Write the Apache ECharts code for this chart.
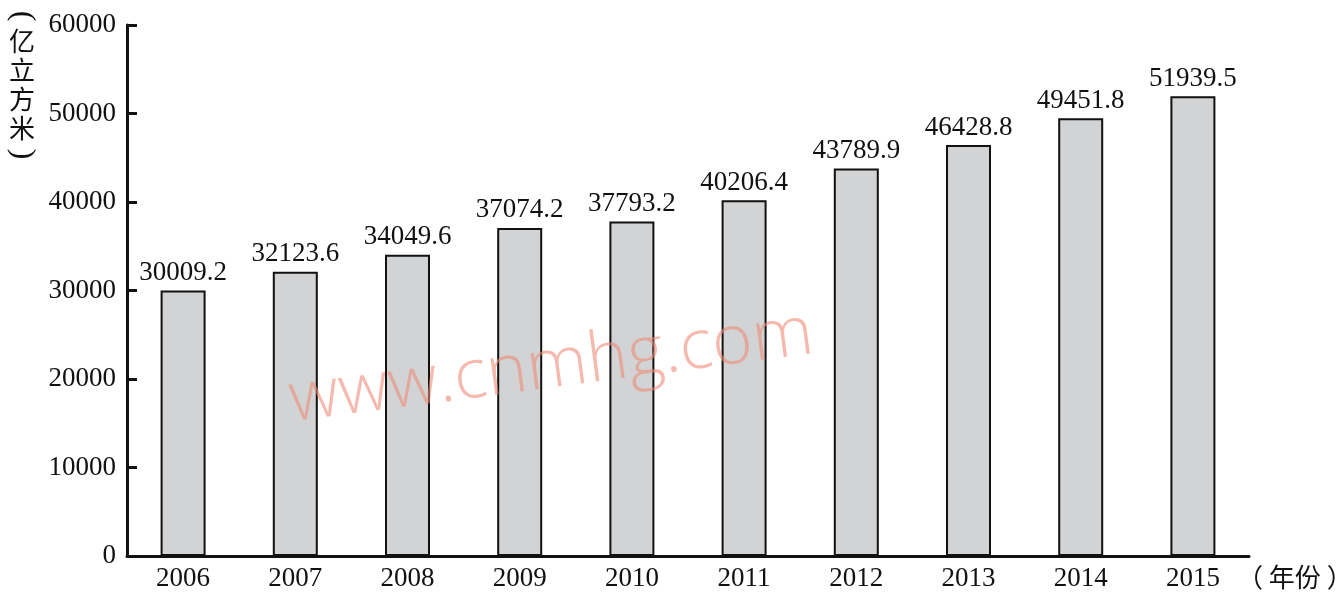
<!DOCTYPE html>
<html><head><meta charset="utf-8">
<script src="https://cdn.jsdelivr.net/npm/echarts@6/dist/echarts.min.js"></script>
<style>html,body{margin:0;padding:0;background:#fff}#c{width:1344px;height:600px}</style>
</head><body><div id="c"></div>
<script>
const years = ['2006','2007','2008','2009','2010','2011','2012','2013','2014','2015'];
const volumes = [30009.2, 32123.6, 34049.6, 37074.2, 37793.2, 40206.4, 43789.9, 46428.8, 49451.8, 51939.5];
const yTicks = [0, 10000, 20000, 30000, 40000, 50000, 60000];

const chart = echarts.init(document.getElementById('c'));
const serif = '"Liberation Serif", "DejaVu Serif", serif';
const cjk = '"Noto Sans CJK SC", sans-serif';
chart.setOption({
  animation: false,
  grid: {left: 127, right: 95, top: 25, bottom: 44, containLabel: false, outerBoundsMode: 'none'},
  xAxis: {
    type: 'category', data: years,
    axisLine: {lineStyle: {color: '#111', width: 3}},
    axisTick: {inside: true, length: 10, lineStyle: {color: '#111', width: 3}},
    axisLabel: {color: '#111', fontFamily: serif, fontSize: 27, margin: 9},
    name: '（ 年份 ）', nameLocation: 'end', nameGap: -12,
    nameTextStyle: {color: '#111', fontFamily: cjk, fontSize: 26, verticalAlign: 'top', align: 'left', padding: [8, 0, 0, 0]}
  },
  yAxis: {
    type: 'value', min: yTicks[0], max: yTicks[yTicks.length - 1], interval: 10000,
    axisLine: {show: true, lineStyle: {color: '#111', width: 3}},
    axisTick: {show: true, inside: true, length: 10, lineStyle: {color: '#111', width: 3}},
    axisLabel: {color: '#111', fontFamily: serif, fontSize: 27, margin: 11, formatter: v => String(v)},
    splitLine: {show: false}
  },
  series: [{
    type: 'bar', data: volumes, barWidth: 45,
    itemStyle: {color: '#d1d3d4', borderColor: '#111', borderWidth: 2},
    label: {show: true, position: 'top', distance: 4, color: '#111', fontFamily: serif, fontSize: 27,
      formatter: p => volumes[p.dataIndex].toFixed(1)}
  }],
  graphic: [
    {type: 'text', x: 22, y: 16, rotation: -Math.PI / 2, z: 10,
     style: {text: '(', font: '32px ' + serif, fill: '#111', align: 'center', verticalAlign: 'middle'}},
    {type: 'text', x: 22, y: 85, z: 10,
     style: {text: '亿\n立\n方\n米', font: '26px ' + cjk, fill: '#111', lineHeight: 29, align: 'center', verticalAlign: 'middle'}},
    {type: 'text', x: 22, y: 154, rotation: -Math.PI / 2, z: 10,
     style: {text: ')', font: '32px ' + serif, fill: '#111', align: 'center', verticalAlign: 'middle'}},
    {type: 'text', x: 294, y: 436, rotation: 0.13, z: 100,
     style: {text: 'www.cnmhg.com', font: '300 69px "Open Sans", "DejaVu Sans", sans-serif', fill: 'rgba(238,140,118,0.6)', verticalAlign: 'bottom'}}
  ]
});
</script></body></html>
